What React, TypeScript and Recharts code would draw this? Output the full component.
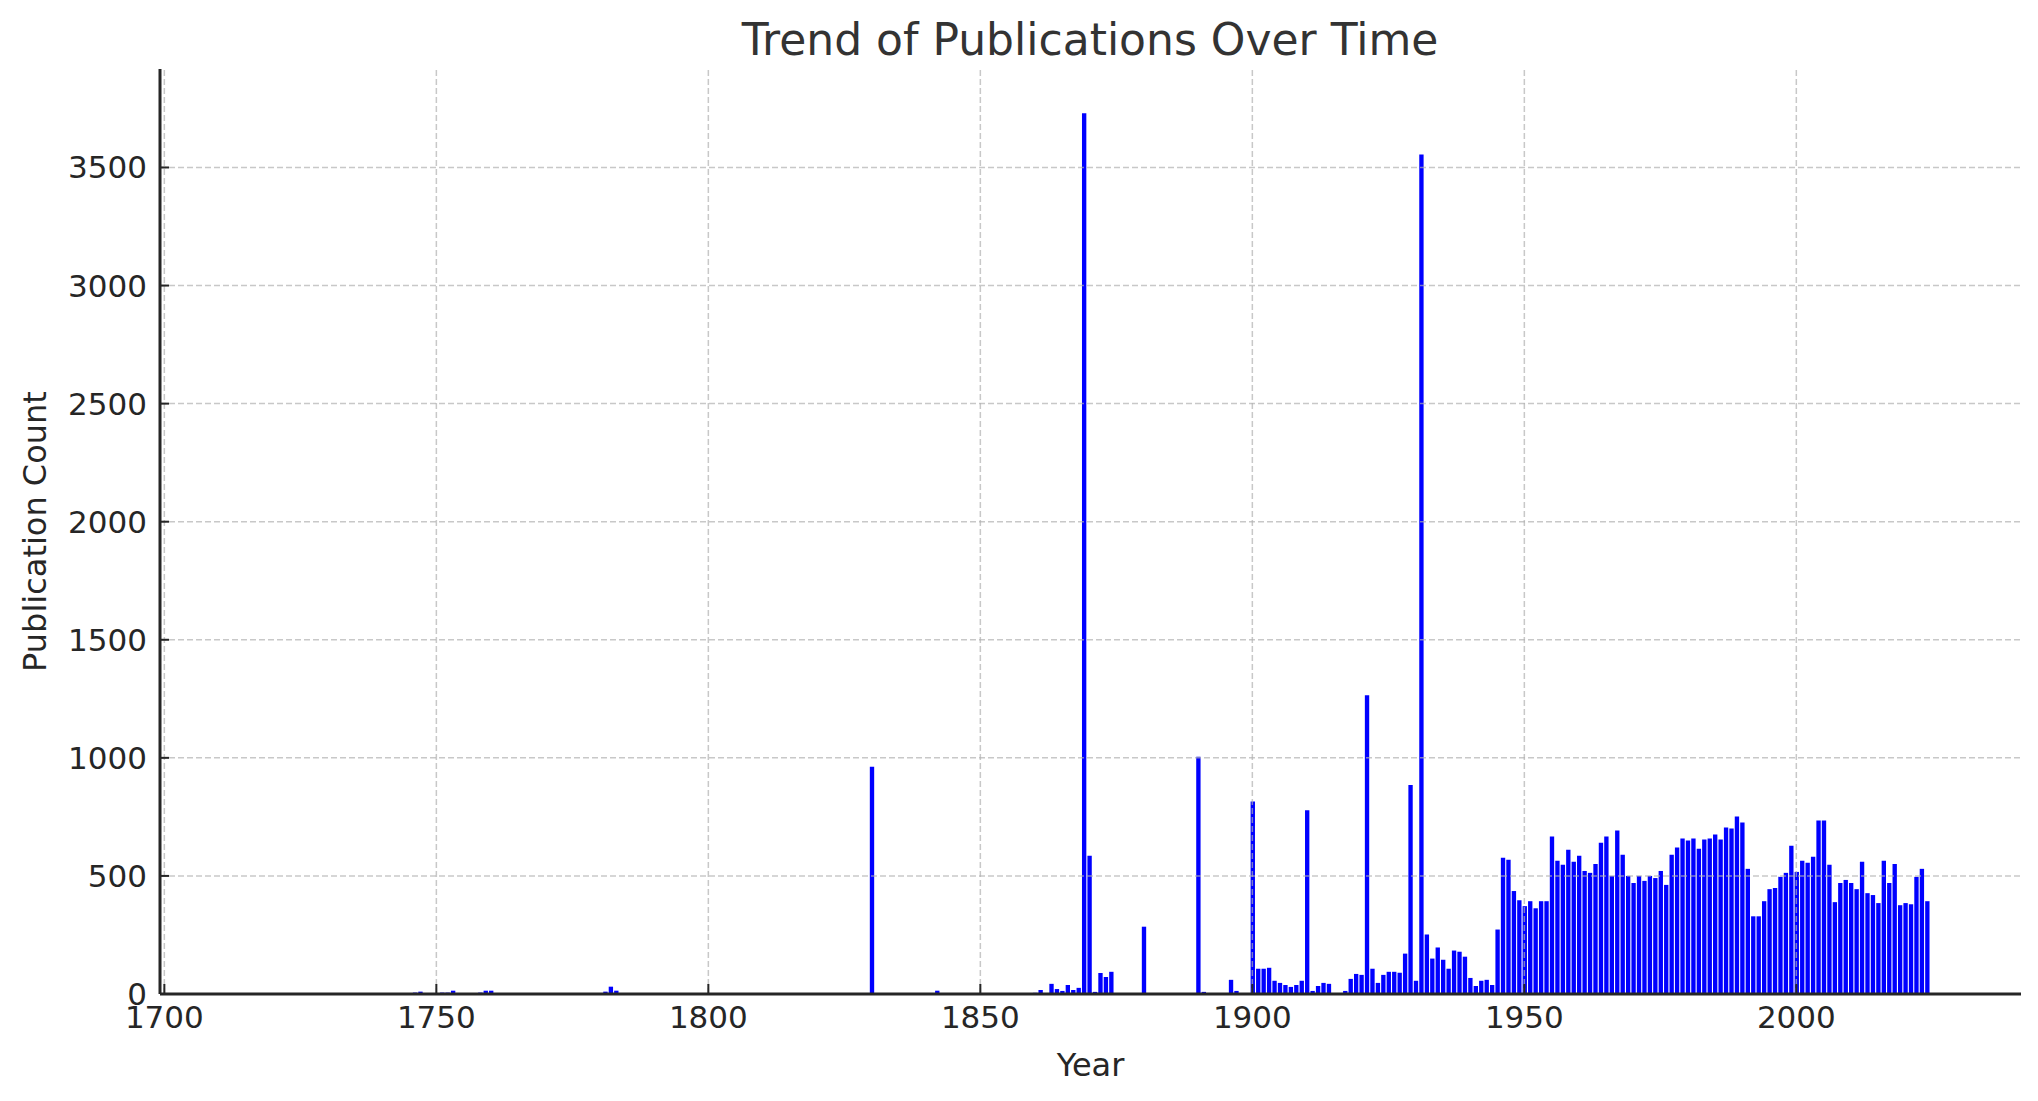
import { Bar, BarChart, Label, ReferenceLine, XAxis, YAxis } from "recharts"

// counts per year
const years1700s = [1746, 1747, 1751, 1752, 1753, 1758, 1759, 1760, 1781, 1782, 1783]
const counts1700s = [6, 10, 6, 6, 14, 6, 14, 14, 10, 31, 14]

const years1800s = [
  1830, 1842, 1860, 1861, 1862, 1863, 1864, 1865, 1866, 1867, 1868, 1869, 1870, 1871, 1872, 1873,
  1874, 1876, 1878, 1880, 1890, 1891, 1893, 1894, 1896, 1897, 1898,
]
const counts1800s = [
  962, 14, 5, 17, 4, 43, 21, 13, 38, 17, 26, 3730, 585, 9, 89, 72,
  94, 4, 4, 285, 1005, 9, 4, 4, 60, 13, 4,
]

const firstModernYear = 1900
const countsModern = [
  // 1900-1919
  815, 107, 107, 111, 56, 47, 38, 30, 38, 56, 778, 13, 34, 47, 43, 4, 4, 13, 64, 85,
  // 1920-1939
  81, 1265, 107, 47, 81, 94, 94, 90, 171, 885, 56, 3555, 252, 150, 197, 145, 107, 184, 179, 158,
  // 1940-1959
  68, 34, 56, 60, 38, 273, 577, 568, 436, 397, 372, 393, 363, 393, 393, 667, 564, 547, 611, 560,
  // 1960-1979
  585, 521, 513, 551, 641, 667, 500, 692, 590, 500, 470, 500, 479, 500, 491, 521, 462, 590, 620, 658,
  // 1980-1999
  650, 658, 615, 654, 658, 675, 654, 705, 701, 752, 726, 530, 329, 329, 393, 444, 449, 496, 513, 628,
  // 2000-2024
  517, 564, 556, 581, 735, 735, 547, 389, 470, 483, 470, 444, 560, 427, 419, 385, 564, 470, 551, 376,
  385, 380, 496, 530, 393,
]

const xTicks = [1700, 1750, 1800, 1850, 1900, 1950, 2000]
const yTicks = [0, 500, 1000, 1500, 2000, 2500, 3000, 3500]

const data = [
  ...years1700s.map((year, i) => ({ year, count: counts1700s[i] })),
  ...years1800s.map((year, i) => ({ year, count: counts1800s[i] })),
  ...countsModern.map((count, i) => ({ year: firstModernYear + i, count })),
]

const W = 2038
const H = 1101
const margin = { top: 69, right: 17, left: 0, bottom: 0 }
const yAxisWidth = 160
const xAxisHeight = 107
const xDomain = [1699.2, 2041.3]
const yDomain = [0, 3917]
const plotWidth = W - margin.left - margin.right - yAxisWidth
const barSize = (0.8 * plotWidth) / (xDomain[1] - xDomain[0])

const ink = "#262626"
const font = "DejaVu Sans, sans-serif"
const tickStyle = { fontSize: 31, fill: ink, fontFamily: font }
const gridStyle = { stroke: "#b0b0b0", strokeOpacity: 0.7, strokeDasharray: "6 3", strokeWidth: 1.5 }

export default function App() {
  return (
    <div style={{ position: "absolute", left: 0, top: 0, width: W, height: H, background: "#fff" }}>
      <svg width={W} height={80} style={{ position: "absolute", left: 0, top: 0 }}>
        <text x={1090} y={55} textAnchor="middle" fontSize={44} fontFamily={font} fill="#333">
          Trend of Publications Over Time
        </text>
      </svg>
      <BarChart width={W} height={H} data={data} margin={margin}>
        <XAxis
          dataKey="year"
          type="number"
          domain={xDomain}
          allowDataOverflow
          ticks={xTicks}
          interval={0}
          height={xAxisHeight}
          tickSize={-10}
          tickMargin={22}
          tick={tickStyle}
          axisLine={{ stroke: ink, strokeWidth: 3 }}
          tickLine={{ stroke: ink, strokeWidth: 2 }}
        >
          <Label
            value="Year"
            position="insideBottom"
            offset={25}
            style={{ fontSize: 32, fill: ink, fontFamily: font }}
          />
        </XAxis>
        <YAxis
          type="number"
          domain={yDomain}
          allowDataOverflow
          ticks={yTicks}
          interval={0}
          width={yAxisWidth}
          tickSize={-9}
          tickMargin={22}
          tick={tickStyle}
          axisLine={{ stroke: ink, strokeWidth: 3 }}
          tickLine={{ stroke: ink, strokeWidth: 2 }}
        >
          <Label
            value="Publication Count"
            angle={-90}
            position="insideLeft"
            offset={35}
            style={{ fontSize: 32, fill: ink, fontFamily: font, textAnchor: "middle" }}
          />
        </YAxis>
        <Bar dataKey="count" fill="#0000ff" barSize={barSize} isAnimationActive={false} />
        {/* grid drawn over the bars, as in the original */}
        {xTicks.map((t) => (
          <ReferenceLine key={"x" + t} x={t} {...gridStyle} />
        ))}
        {yTicks
          .filter((t) => t > 0)
          .map((t) => (
            <ReferenceLine key={"y" + t} y={t} {...gridStyle} />
          ))}
      </BarChart>
    </div>
  )
}
